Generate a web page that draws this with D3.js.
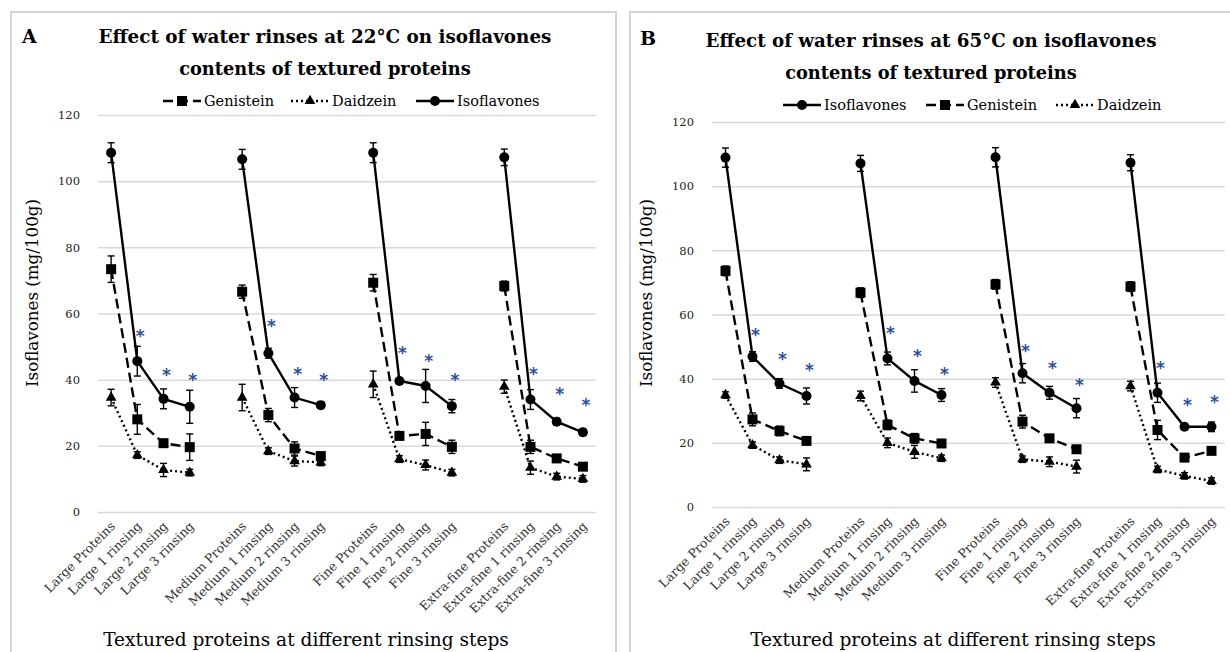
<!DOCTYPE html>
<html><head><meta charset="utf-8">
<script src="https://cdn.jsdelivr.net/npm/d3@7"></script>
<style>body{margin:0;background:#fff}</style>
</head><body><svg id="c" width="1230" height="652"></svg>
<script>
const categories = ["Large Proteins","Large 1 rinsing","Large 2 rinsing","Large 3 rinsing","",
 "Medium Proteins","Medium 1 rinsing","Medium 2 rinsing","Medium 3 rinsing","",
 "Fine Proteins","Fine 1 rinsing","Fine 2 rinsing","Fine 3 rinsing","",
 "Extra-fine Proteins","Extra-fine 1 rinsing","Extra-fine 2 rinsing","Extra-fine 3 rinsing"];
const yTicks = [0,20,40,60,80,100,120];

// Panel A (22°C)
const isoA    = [108.6,45.6,34.2,31.8,null,106.6,48.0,34.6,32.3,null,108.6,39.6,38.1,32.0,null,107.2,34.0,27.3,24.1];
const isoAErr = [3,4.5,3,5,null,3,1.5,3,1,null,3,1,5,2,null,2.5,3,1,1];
const genA    = [73.4,28.0,20.8,19.6,null,66.6,29.3,19.2,16.9,null,69.3,23.0,23.6,19.7,null,68.3,19.7,16.2,13.7];
const genAErr = [4,4.5,1,4,null,2,2,2,1,null,2.5,1,3.5,2,null,1.5,2,1,1];
const daiA    = [34.6,17.2,12.7,11.9,null,34.6,18.4,15.4,15.0,null,38.6,16.0,14.2,11.9,null,37.9,13.4,10.7,10.0];
const daiAErr = [2.5,1,2,1,null,4,1,1.5,1,null,4,1,1.5,1,null,2,2,1,1];
const sigA    = [null,54.1,42.3,40.8,null,null,57.1,42.6,40.8,null,null,49.0,46.6,40.8,null,null,42.6,36.6,33.3];

// Panel B (65°C)
const isoB    = [108.9,46.9,38.5,34.6,null,107.1,46.3,39.3,34.9,null,109.0,41.7,35.6,30.8,null,107.3,35.6,25.0,25.0];
const isoBErr = [3,1.5,1.5,2.5,null,2.5,2,3.5,2,null,3,3,2,3,null,2.5,3,0.5,1.5];
const genB    = [73.6,27.3,23.7,20.6,null,66.8,25.6,21.4,19.8,null,69.4,26.6,21.4,18.0,null,68.7,24.0,15.4,17.5];
const genBErr = [1.5,2,1.5,1,null,1.5,1.5,1.5,1,null,1.5,2,1,1,null,1.5,3,1,1];
const daiB    = [34.9,19.3,14.6,13.3,null,34.6,20.0,17.2,15.2,null,38.8,14.9,14.1,12.6,null,37.7,11.7,9.7,8.1];
const daiBErr = [1,1,1,2,null,1.5,1.5,2,1,null,1.5,1,1.5,2,null,1.5,1,1,1];
const sigB    = [null,54.6,47.1,43.6,null,null,55.2,48.0,42.4,null,null,49.6,44.3,39.0,null,null,44.3,32.7,33.7];

const FONT = "'DejaVu Serif',serif";
const svg = d3.select("#c");

const seriesStyle = {
  Isoflavones: {dash:null, shape:"circle"},
  Genistein: {dash:"10,5", shape:"square"},
  Daidzein: {dash:"2,3", shape:"triangle"}
};

function marker(g, shape, x, y){
  if(shape==="circle") g.append("circle").attr("cx",x).attr("cy",y).attr("r",5).attr("fill","#000");
  else if(shape==="square") g.append("rect").attr("x",x-5).attr("y",y-5).attr("width",10).attr("height",10).attr("fill","#000");
  else g.append("path").attr("d",d3.symbol(d3.symbolTriangle,50)()).attr("transform",`translate(${x},${y})`).attr("fill","#000");
}

function fit(t, w){
  const fs = +t.attr("font-size");
  const len = t.node().getComputedTextLength();
  t.attr("font-size", (fs*w/len).toFixed(2));
}

function drawPanel(cfg){
  const g = svg.append("g");
  g.append("rect").attr("x",cfg.box[0]).attr("y",cfg.box[1]).attr("width",cfg.box[2]).attr("height",cfg.box[3])
    .attr("fill","none").attr("stroke","#d4d4d4").attr("stroke-width",2);
  const x = d3.scaleBand().domain(d3.range(categories.length)).range([cfg.x0,cfg.x1]);
  const y = d3.scaleLinear().domain([0,120]).range([cfg.y0,cfg.y120]);
  const cx = i => x(i)+x.bandwidth()/2;

  // gridlines + tick labels
  const ax = d3.axisLeft(y).tickValues(yTicks).tickSize(-(cfg.x1-cfg.x0)).tickPadding(18);
  const ag = g.append("g").attr("transform",`translate(${cfg.x0},0)`).call(ax);
  ag.select(".domain").remove();
  ag.selectAll(".tick line").attr("stroke","#d9d9d9").attr("stroke-width",1.5);
  ag.selectAll(".tick text").attr("font-family",FONT).attr("font-size",11.5).attr("fill","#222");

  // x labels
  const xa = g.append("g").attr("transform",`translate(0,${cfg.y0})`);
  categories.forEach((c,i)=>{
    if(!c) return;
    xa.append("text").attr("transform",`translate(${cx(i)+5},15) rotate(-45)`)
      .attr("text-anchor","end").attr("font-family",FONT).attr("font-size",12.5).attr("fill","#333").text(c);
  });

  // series
  cfg.series.forEach(s=>{
    const st = seriesStyle[s.name];
    const pts = s.values.map((v,i)=>({i,v,e:s.err[i]}));
    const line = d3.line().defined(d=>d.v!=null).x(d=>cx(d.i)).y(d=>y(d.v));
    g.append("path").attr("d",line(pts)).attr("fill","none").attr("stroke","#000")
      .attr("stroke-width",2.4).attr("stroke-dasharray",st.dash);
    pts.filter(d=>d.v!=null).forEach(d=>{
      const X=cx(d.i);
      g.append("line").attr("x1",X).attr("x2",X).attr("y1",y(d.v-d.e)).attr("y2",y(d.v+d.e)).attr("stroke","#000").attr("stroke-width",1.4);
      [d.v-d.e,d.v+d.e].forEach(t=>g.append("line").attr("x1",X-3.5).attr("x2",X+3.5).attr("y1",y(t)).attr("y2",y(t)).attr("stroke","#000").attr("stroke-width",1.4));
      marker(g, st.shape, X, y(d.v));
    });
  });

  // significance asterisks
  cfg.sig.forEach((v,i)=>{
    if(v==null) return;
    g.append("text").attr("x",cx(i)+3).attr("y",y(v)+9).attr("text-anchor","middle")
      .attr("font-family","'DejaVu Sans',sans-serif").attr("font-weight","bold").attr("font-size",17).attr("fill","#2f4f9a").text("*");
  });

  // titles
  g.append("text").attr("x",cfg.letter[0]).attr("y",cfg.letter[1]).attr("font-family",FONT).attr("font-weight","bold").attr("font-size",19).text(cfg.letterText);
  cfg.title.forEach((t,k)=>{
    const tt = g.append("text").attr("x",cfg.titleX).attr("y",cfg.titleY+k*32).attr("text-anchor","middle")
      .attr("font-family",FONT).attr("font-weight","bold").attr("font-size",16).text(t);
    fit(tt, cfg.titleW[k]);
  });
  // axis titles
  const yt = g.append("text").attr("transform",`translate(${cfg.yTitleX},${cfg.yTitleY}) rotate(-90)`).attr("text-anchor","middle")
    .attr("font-family",FONT).attr("font-size",15).text("Isoflavones (mg/100g)");
  fit(yt, 188);
  const xt = g.append("text").attr("x",cfg.xTitleX).attr("y",cfg.xTitleY).attr("text-anchor","middle")
    .attr("font-family",FONT).attr("font-size",16).text("Textured proteins at different rinsing steps");
  fit(xt, cfg.xTitleW);

  // legend
  const ly = cfg.legend[1];
  cfg.legendOrder.forEach((name,k)=>{
    const st = seriesStyle[name];
    const lx = cfg.legend[0][k];
    const lg = g.append("g");
    lg.append("line").attr("x1",lx).attr("x2",lx+38).attr("y1",ly).attr("y2",ly).attr("stroke","#000").attr("stroke-width",2.4).attr("stroke-dasharray",st.dash);
    marker(lg, st.shape, lx+19, ly);
    lg.append("text").attr("x",lx+41).attr("y",ly+5).attr("font-family",FONT).attr("font-size",14.5).text(name);
  });
}

drawPanel({
  box:[11,12,605,660], x0:98, x1:596, y0:512, y120:115,
  series:[{name:"Isoflavones",values:isoA,err:isoAErr},{name:"Genistein",values:genA,err:genAErr},{name:"Daidzein",values:daiA,err:daiAErr}],
  sig:sigA, letter:[22,43], letterText:"A", title:["Effect of water rinses at 22°C on isoflavones","contents of textured proteins"],
  titleW:[453,292], titleX:325, titleY:43, yTitleX:38, yTitleY:293, xTitleX:306, xTitleW:406, xTitleY:646,
  legend:[[163,291,416],101], legendOrder:["Genistein","Daidzein","Isoflavones"]
});
drawPanel({
  box:[630,12,605,660], x0:712, x1:1225, y0:507, y120:122,
  series:[{name:"Isoflavones",values:isoB,err:isoBErr},{name:"Genistein",values:genB,err:genBErr},{name:"Daidzein",values:daiB,err:daiBErr}],
  sig:sigB, letter:[640,45], letterText:"B", title:["Effect of water rinses at 65°C on isoflavones","contents of textured proteins"],
  titleW:[451,292], titleX:931, titleY:47, yTitleX:652, yTitleY:293, xTitleX:953, xTitleW:406, xTitleY:646,
  legend:[[783,926,1056],105], legendOrder:["Isoflavones","Genistein","Daidzein"]
});
</script></body></html>
